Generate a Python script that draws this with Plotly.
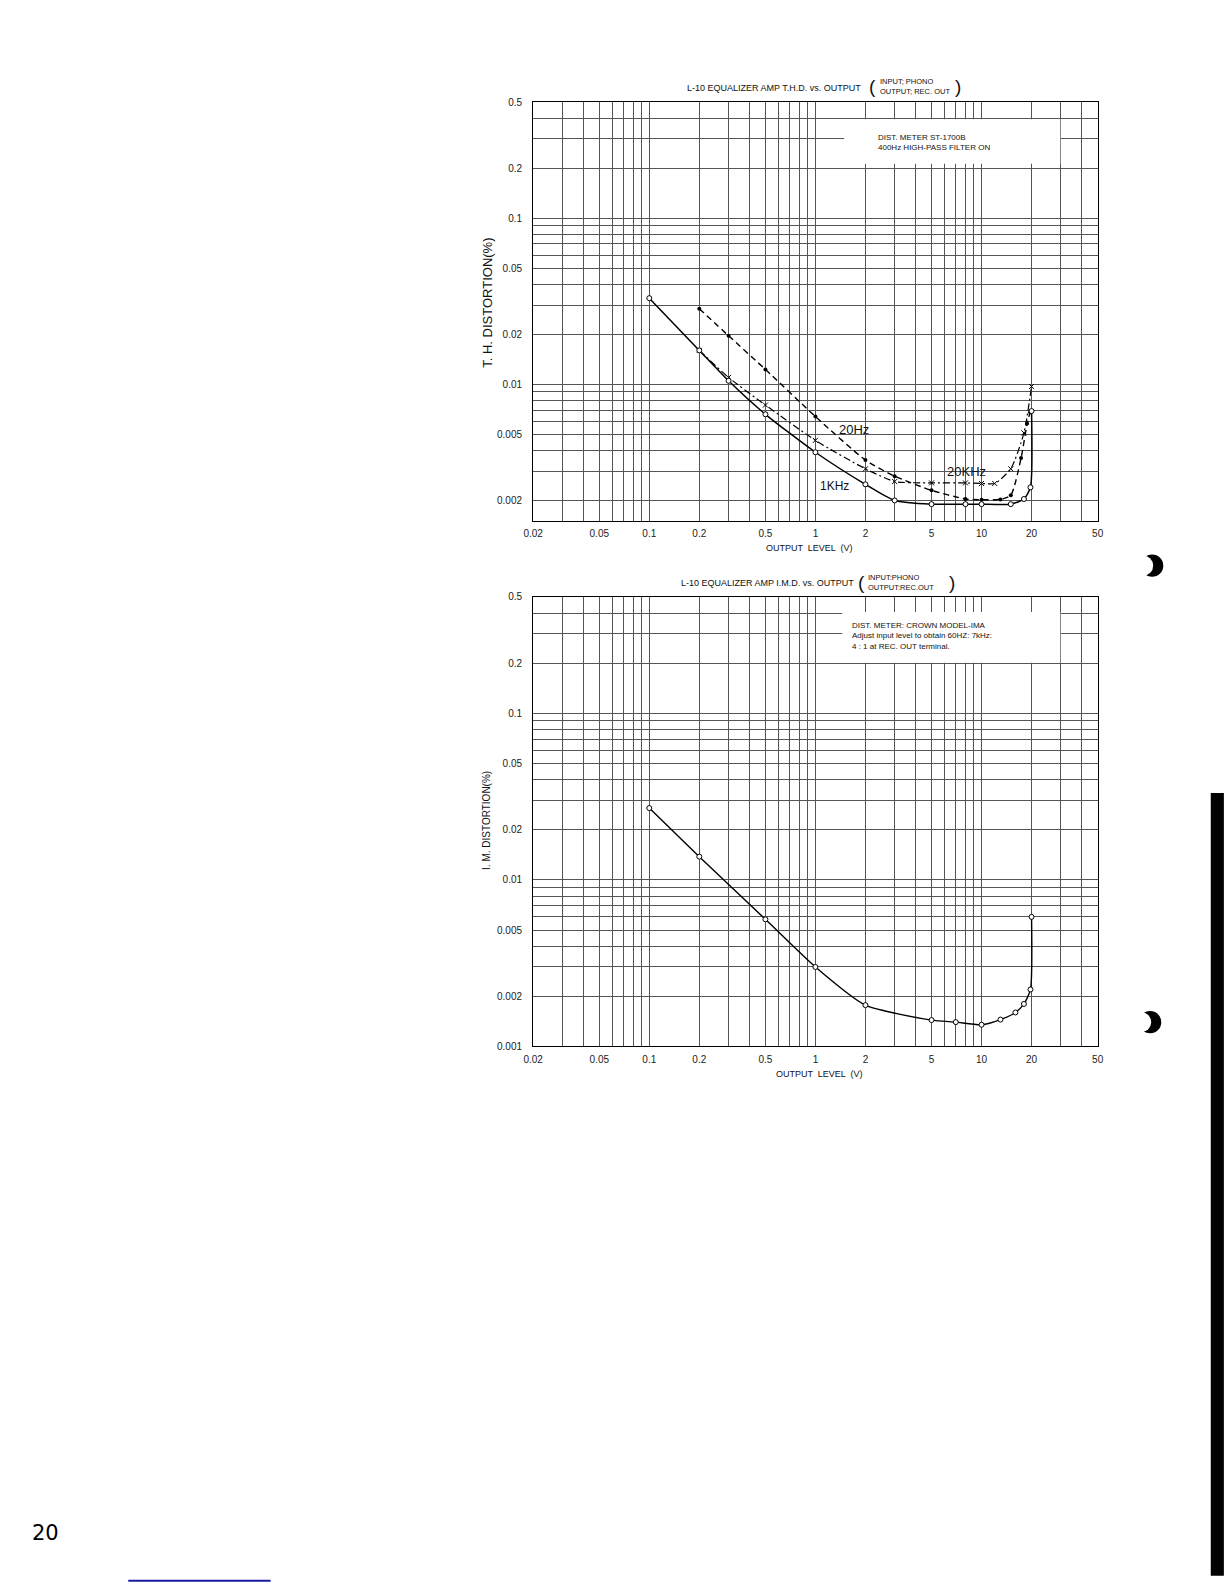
import math
import plotly.graph_objects as go

# ---------------- data ----------------
thd_1k_x = [0.1, 0.2, 0.3, 0.5, 1, 2, 3, 5, 8, 10, 15, 18, 19.7, 20]
thd_1k_y = [0.033, 0.016, 0.0105, 0.0066, 0.0039, 0.0025, 0.0020, 0.0019, 0.0019,
            0.0019, 0.0019, 0.00204, 0.0024, 0.0069]

thd_20hz_x = [0.2, 0.3, 0.5, 1, 2, 3, 5, 8, 10, 13, 15, 17.3, 18.8, 19.6]
thd_20hz_y = [0.0285, 0.0196, 0.0123, 0.0064, 0.0035, 0.0028, 0.0023, 0.00204,
              0.00202, 0.00203, 0.00215, 0.0036, 0.0058, 0.0068]

thd_20k_x = [0.2, 0.3, 0.5, 1, 2, 3, 5, 8, 10, 12, 15, 18, 20]
thd_20k_y = [0.016, 0.011, 0.0075, 0.0046, 0.0031, 0.0026, 0.00255, 0.00255,
             0.00253, 0.00253, 0.0031, 0.0051, 0.0097]

imd_x = [0.1, 0.2, 0.5, 1, 2, 5, 7, 10, 13, 16, 18, 19.7, 20]
imd_y = [0.027, 0.0138, 0.0058, 0.0030, 0.00177, 0.00144, 0.0014, 0.00135,
         0.00145, 0.0016, 0.0018, 0.0022, 0.006]

x_labels = ["0.02", "0.05", "0.1", "0.2", "0.5", "1", "2", "5", "10", "20", "50"]
y_labels_thd = ["0.5", "0.2", "0.1", "0.05", "0.02", "0.01", "0.005", "0.002"]
y_labels_imd = ["0.5", "0.2", "0.1", "0.05", "0.02", "0.01", "0.005", "0.002", "0.001"]

# ---------------- helpers ----------------
W, H = 1224, 1584          # reference page (layout positions given in these pixels)
FIG_W, FIG_H = 1236, 1600  # rendered figure size (compensates page scaling)


def px(x):
    return x / W


def py(y):
    return 1 - y / H


def log_grid(lo, hi):
    vals = []
    for e in range(-4, 3):
        for m in range(1, 10):
            v = round(m * 10 ** e, 8)
            if lo - 1e-12 <= v <= hi + 1e-12:
                vals.append(v)
    return vals


def ticktext_for(vals, labels):
    lab = {round(float(s), 8): s for s in labels}
    return [lab.get(round(v, 8), "") for v in vals]


FONT = "Liberation Sans Narrow, Liberation Sans, Arial"
GRID = "#555555"

gx = log_grid(0.02, 50)
gy1 = log_grid(0.002, 0.5)
gy2 = log_grid(0.001, 0.5)

fig = go.Figure()

# ---- THD chart ----
fig.add_trace(go.Scatter(
    x=thd_20hz_x, y=thd_20hz_y, mode="lines+markers", xaxis="x", yaxis="y",
    line=dict(color="black", width=1.4, dash="6px,4px", shape="spline", smoothing=0.6),
    marker=dict(symbol="circle", size=4, color="black"), showlegend=False))
fig.add_trace(go.Scatter(
    x=thd_20k_x, y=thd_20k_y, mode="lines+markers", xaxis="x", yaxis="y",
    line=dict(color="black", width=1.2, dash="7px,3px,2px,3px", shape="spline", smoothing=0.6),
    marker=dict(symbol="x-thin-open", size=5, color="black", line=dict(width=1, color="black")),
    showlegend=False))
fig.add_trace(go.Scatter(
    x=thd_1k_x, y=thd_1k_y, mode="lines+markers", xaxis="x", yaxis="y",
    line=dict(color="black", width=1.5, shape="spline", smoothing=0.6),
    marker=dict(symbol="circle", size=5, color="white", line=dict(width=1, color="black")),
    showlegend=False))

# ---- IMD chart ----
fig.add_trace(go.Scatter(
    x=imd_x, y=imd_y, mode="lines+markers", xaxis="x2", yaxis="y2",
    line=dict(color="black", width=1.4, shape="spline", smoothing=0.6),
    marker=dict(symbol="circle", size=5, color="white", line=dict(width=1, color="black")),
    showlegend=False))

xdom = [px(528), px(1087)]
axis_common = dict(type="log", showgrid=True, gridcolor=GRID, gridwidth=1,
                   showline=True, linecolor="black", linewidth=1.2, mirror=True,
                   zeroline=False, ticks="outside", tickcolor="rgba(0,0,0,0)",
                   automargin=False,
                   tickfont=dict(family=FONT, size=10, color="#222"))

fig.update_layout(
    template="none",
    width=FIG_W, height=FIG_H, margin=dict(l=0, r=0, t=0, b=0, pad=0), autosize=False,
    paper_bgcolor="white", plot_bgcolor="white", showlegend=False,
    xaxis=dict(axis_common, domain=xdom, anchor="y",
               range=[math.log10(0.02), math.log10(50)],
               tickvals=gx, ticktext=ticktext_for(gx, x_labels), ticklen=3),
    yaxis=dict(axis_common, domain=[py(516), py(101)], anchor="x",
               range=[math.log10(0.0015), math.log10(0.5)],
               tickvals=gy1, ticktext=ticktext_for(gy1, y_labels_thd), ticklen=8),
    xaxis2=dict(axis_common, domain=xdom, anchor="y2",
                range=[math.log10(0.02), math.log10(50)],
                tickvals=gx, ticktext=ticktext_for(gx, x_labels), ticklen=3),
    yaxis2=dict(axis_common, domain=[py(1036), py(591)], anchor="x2",
                range=[math.log10(0.001), math.log10(0.5)],
                tickvals=gy2, ticktext=ticktext_for(gy2, y_labels_imd), ticklen=8),
)

shapes = []
# white boxes behind the notes
shapes.append(dict(type="rect", xref="paper", yref="paper", x0=px(836), x1=px(1050),
                   y0=py(162), y1=py(118), fillcolor="white", line=dict(width=0), layer="above"))
shapes.append(dict(type="rect", xref="paper", yref="paper", x0=px(834), x1=px(1050),
                   y0=py(656), y1=py(606), fillcolor="white", line=dict(width=0), layer="above"))
# right-edge thumb bar
shapes.append(dict(type="rect", xref="paper", yref="paper", x0=px(1199), x1=px(1212),
                   y0=py(1560), y1=py(785), fillcolor="black", line=dict(width=0)))
# binding-hole marks
for cx, cy in [(1141, 560), (1139, 1012)]:
    shapes.append(dict(type="circle", xref="paper", yref="paper", x0=px(cx - 11), x1=px(cx + 11),
                       y0=py(cy + 11), y1=py(cy - 11), fillcolor="black", line=dict(width=0)))
    shapes.append(dict(type="circle", xref="paper", yref="paper", x0=px(cx - 19), x1=px(cx + 1),
                       y0=py(cy + 10), y1=py(cy - 10), fillcolor="white", line=dict(width=0)))
# blue underline at page foot
shapes.append(dict(type="line", xref="paper", yref="paper", x0=px(127), x1=px(268),
                   y0=py(1565), y1=py(1565), line=dict(color="#1a1aa0", width=2)))
fig.update_layout(shapes=shapes)

ann = []


def text(x, y, s, size=9, xanchor="center", yanchor="middle", angle=0, align="left", family=FONT, color="#111"):
    ann.append(dict(x=px(x), y=py(y), xref="paper", yref="paper", text=s, showarrow=False,
                    xanchor=xanchor, yanchor=yanchor, textangle=angle, align=align,
                    font=dict(family=family, size=size, color=color)))


# titles
text(766, 87, "L-10 EQUALIZER AMP T.H.D. vs. OUTPUT", size=9)
text(864, 86, "(", size=19, family="Liberation Sans")
text(869, 86, "INPUT; PHONO<br>OUTPUT; REC. OUT", size=7.5, xanchor="left")
text(949, 86, ")", size=19, family="Liberation Sans")

text(760, 577, "L-10 EQUALIZER AMP I.M.D. vs. OUTPUT", size=9)
text(853, 577, "(", size=19, family="Liberation Sans")
text(858, 577, "INPUT:PHONO<br>OUTPUT:REC.OUT", size=7.5, xanchor="left")
text(943, 577, ")", size=19, family="Liberation Sans")

# notes
text(867, 141, "DIST. METER ST-1700B<br>400Hz HIGH-PASS FILTER ON", size=8, xanchor="left")
text(842, 630, "DIST. METER: CROWN MODEL-IMA<br>Adjust input level to obtain 60HZ: 7kHz:<br>4 : 1 at REC. OUT terminal.",
     size=8, xanchor="left")

# curve labels
text(846, 425, "20Hz", size=13, family="Liberation Sans")
text(957, 467, "20KHz", size=13, family="Liberation Sans")
text(826, 481, "1KHz", size=12, family="Liberation Sans")

# axis titles
text(482, 300, "T. H. DISTORTION(%)", size=13, angle=-90, family="Liberation Sans")
text(481, 812, "I. M. DISTORTION(%)", size=10, angle=-90, family="Liberation Sans")
text(802, 543, "OUTPUT  LEVEL  (V)", size=9)
text(812, 1063, "OUTPUT  LEVEL  (V)", size=9)

# page number
text(45, 1518, "20", size=21, family="DejaVu Sans", color="black")

fig.update_layout(annotations=ann)

fig.write_html(
    "out.html",
    config={"displayModeBar": False},
    post_script="document.body.style.margin='0';document.body.style.overflow='hidden';",
)
